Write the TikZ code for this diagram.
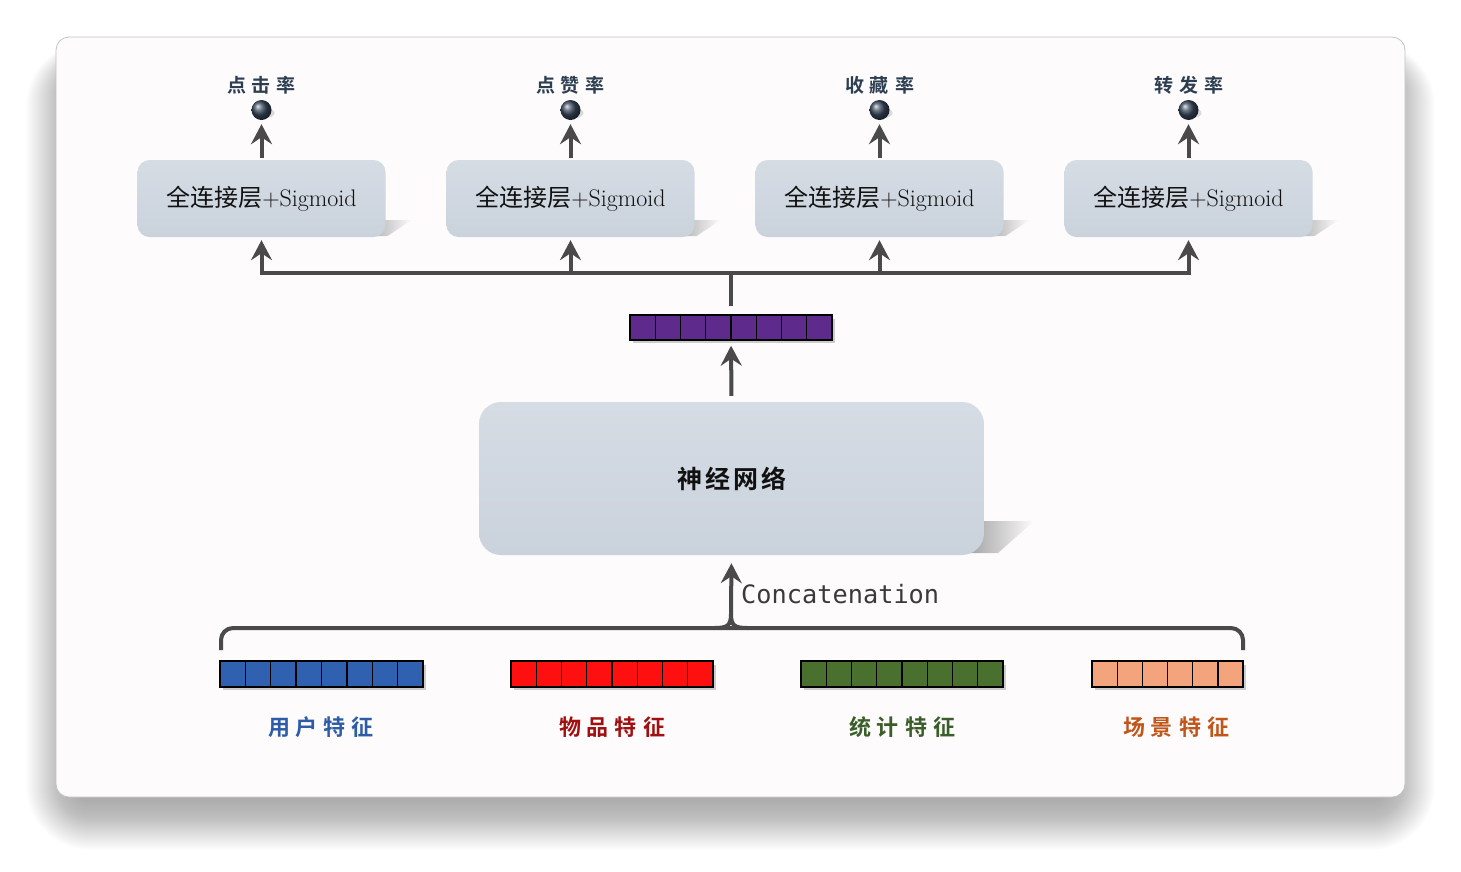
\documentclass[tikz,border=0pt]{standalone}
\usepackage{fontspec}
\newfontfamily\cjk{Noto Sans CJK SC}[BoldFont={Noto Sans CJK SC Bold}]
\newfontfamily\monof{DejaVu Sans Mono}
\usetikzlibrary{arrows.meta,calc}
\definecolor{winbg}{HTML}{FDFBFC}
\definecolor{winborder}{HTML}{C4C4C4}
\definecolor{boxtop}{HTML}{D5DCE4}
\definecolor{boxbot}{HTML}{CAD2DC}
\definecolor{arrgray}{HTML}{4A4A4A}
\definecolor{labcol}{HTML}{2C3E50}
\definecolor{ballcol}{HTML}{3A4A5E}
\definecolor{vecpurple}{HTML}{5E2A8C}
\definecolor{fblue}{HTML}{3060B0}
\definecolor{fred}{HTML}{FF1010}
\definecolor{fgreen}{HTML}{4A7030}
\definecolor{forange}{HTML}{F4A47C}
\definecolor{tblue}{HTML}{2E5DA8}
\definecolor{tred}{HTML}{A01010}
\definecolor{tgreen}{HTML}{3A5E2A}
\definecolor{torange}{HTML}{C0561A}
\definecolor{txtdark}{HTML}{111111}
\definecolor{monogray}{HTML}{3A3A3A}
\begin{document}
\begin{tikzpicture}[x=1pt,y=-1pt,
  fcbox/.style={rounded corners=12pt, minimum width=248pt, minimum height=77pt,
    inner sep=0pt, top color=boxtop, bottom color=boxbot, draw=none,
    text=txtdark, font=\fontsize{24}{28}\selectfont},
  nnbox/.style={rounded corners=22pt, minimum width=505pt, minimum height=153pt,
    inner sep=0pt, top color=boxtop, bottom color=boxbot, draw=none,
    text=txtdark, font=\cjk\bfseries\fontsize{25}{30}\selectfont},
  ballnode/.style={circle, minimum size=20pt, inner sep=0pt, ball color=ballcol, draw=none},
  ratelab/.style={text=labcol, font=\cjk\bfseries\fontsize{19}{22}\selectfont, inner sep=0pt},
  featlab/.style={font=\cjk\bfseries\fontsize{22}{26}\selectfont, inner sep=0pt},
  barnode/.style={minimum height=26pt, inner sep=0pt, draw=none},
  cell/.style={draw=black, line width=1.3pt},
  conn/.style={draw=arrgray, line width=4pt},
  arr/.style={conn, -{Stealth[length=20pt,width=21pt,inset=7pt]}},
  shadowfill/.style={left color=black!35, right color=winbg, draw=none},
]
\useasboundingbox (0,0) rectangle (1461,871);

% window shadow
\foreach \i in {1,...,50}{
  \pgfmathsetmacro{\rr}{14+\i}
  \fill[black, opacity=0.0075, rounded corners=\rr pt]
    (76-\i,72-0.6*\i) rectangle (1385+\i,800+\i);
}
% window
\node[draw=winborder, fill=winbg, line width=0.8pt, rounded corners=13pt,
  minimum width=1349pt, minimum height=760pt, inner sep=0pt] (win) at (730.5,417) {};

% ---- FC boxes with shadows, balls, labels
\foreach \k/\rate in {1/{点\hspace{6pt}击\hspace{6pt}率}, 2/{点\hspace{6pt}赞\hspace{6pt}率},
                      3/{收\hspace{6pt}藏\hspace{6pt}率}, 4/{转\hspace{6pt}发\hspace{6pt}率}}{
  \pgfmathsetmacro{\cx}{261.5+309*(\k-1)}
  \shade[shadowfill] (\cx+104,220) -- (\cx+150,220) -- (\cx+126,236) -- (\cx+104,236) -- cycle;
  \node[fcbox] (fc\k) at (\cx,198.5) {\cjk 全连接层\rmfamily+Sigmoid};
  \fill[black!15] (\cx+4,113) ellipse (9pt and 5pt);
  \node[ballnode] (ball\k) at (\cx,110) {};
  \node[ratelab] (rate\k) at (\cx,85) {\rate};
  \draw[arr, shorten <=2pt, shorten >=4pt] (fc\k.north) -- (ball\k.south);
}

% ---- bus
\coordinate (bus) at (731,273);
\foreach \k in {1,...,4}{
  \draw[arr, shorten >=3pt] (bus) -| (fc\k.south);
}

% ---- purple vector
\node[barnode, minimum width=202pt] (vec) at (731,327.5) {};
\fill[black!20] (633,319) rectangle (835,343);
\foreach \i in {0,...,7}{
  \draw[cell, fill=vecpurple] (630+25.25*\i,315) rectangle ++(25.25,25);
}
\draw[conn] (bus) -- ($(vec.north)+(0,-8)$);

% ---- neural network box
\shade[shadowfill] (970,521) -- (1034,521) -- (998,553) -- (970,553) -- cycle;
\node[nnbox] (nn) at (731.5,478.5) {神\hspace{3pt}经\hspace{3pt}网\hspace{3pt}络};
\draw[arr, shorten <=6pt, shorten >=5pt] (nn.north) -- (vec.south);

% ---- brace
\coordinate (tip) at (731,614);
\draw[conn, rounded corners=12pt] (221,650) -- (221,628) -- (1243,628) -- (1243,650);
\draw[conn] (714,628) .. controls (727,628) and (731,626) .. (tip);
\draw[conn] (748,628) .. controls (735,628) and (731,626) .. (tip);
\draw[arr, shorten >=8pt] (tip) -- (nn.south);
\node[anchor=west, inner sep=0pt, text=monogray, font=\monof\fontsize{25.3}{29}\selectfont]
  (concat) at (741,594) {Concatenation};

% ---- feature bars
\foreach \k/\x/\n/\w/\col in {1/220/8/25.375/fblue, 2/511/8/25.25/fred,
                               3/801/8/25.25/fgreen, 4/1092/6/25.17/forange}{
  \pgfmathsetmacro{\bw}{\n*\w}
  \node[barnode, minimum width=\bw pt] (bar\k) at (\x+\bw/2,674) {};
  \fill[black!20] (\x+3,665) rectangle (\x+\bw+3,690);
  \foreach \i in {1,...,\n}{
    \draw[cell, fill=\col] (\x+\w*\i-\w,661) rectangle ++(\w,26);
  }
}
\node[featlab, text=tblue] (lab1) at (321,727) {用\hspace{6pt}户\hspace{6pt}特\hspace{6pt}征};
\node[featlab, text=tred] (lab2) at (612,727) {物\hspace{6pt}品\hspace{6pt}特\hspace{6pt}征};
\node[featlab, text=tgreen] (lab3) at (902,727) {统\hspace{6pt}计\hspace{6pt}特\hspace{6pt}征};
\node[featlab, text=torange] (lab4) at (1176,727) {场\hspace{6pt}景\hspace{6pt}特\hspace{6pt}征};
\end{tikzpicture}
\end{document}
